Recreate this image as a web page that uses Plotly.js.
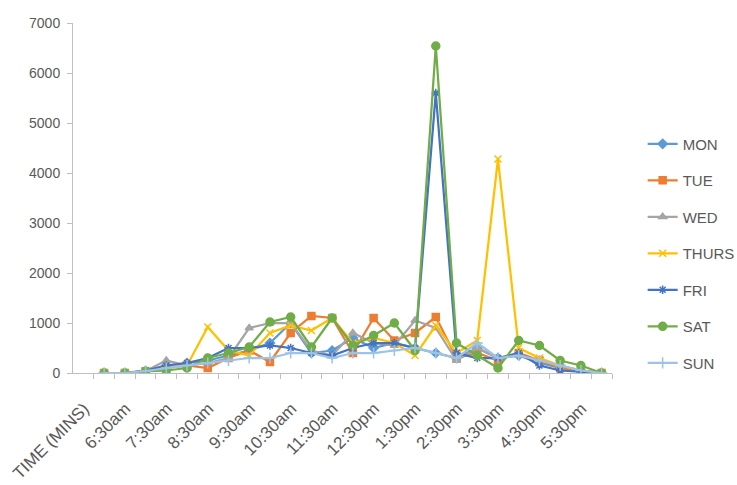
<!DOCTYPE html>
<html>
<head>
<meta charset="utf-8">
<script src="https://cdn.plot.ly/plotly-3.0.1.min.js"></script>
<style>
html,body{margin:0;padding:0;background:#fff;}
#chart{width:737px;height:485px;}
</style>
</head>
<body>
<div id="chart"></div>
<script>
const categories = ["TIME (MINS)","6:00am","6:30am","7:00am","7:30am","8:00am","8:30am","9:00am","9:30am","10:00am","10:30am","11:00am","11:30am","12:00pm","12:30pm","1:00pm","1:30pm","2:00pm","2:30pm","3:00pm","3:30pm","4:00pm","4:30pm","5:00pm","5:30pm"];

const MON   = [0,0,40,150,200,250,350,450,600,1000,400,450,700,500,600,500,400,300,500,300,350,200,100,50,0];
const TUE   = [0,0,30,100,150,100,300,450,220,800,1140,1100,400,1100,650,800,1120,300,400,250,400,250,100,50,0];
const WED   = [0,0,40,250,150,200,300,900,1000,1000,450,350,800,600,550,1050,900,250,500,300,350,250,150,50,0];
const THURS = [0,0,50,100,150,920,450,350,800,950,850,1100,600,700,600,350,950,400,650,4280,500,300,150,50,0];
const FRI   = [0,0,50,150,200,300,500,500,550,500,400,350,500,600,600,500,5600,400,300,300,400,150,50,30,0];
const SAT   = [0,0,30,50,100,300,400,520,1020,1120,520,1100,550,750,1000,450,6540,600,350,100,650,550,250,150,0];
const SUN   = [0,0,40,100,150,200,250,300,300,400,400,300,400,400,450,500,400,300,600,300,350,250,150,50,0];

const names = ["MON","TUE","WED","THURS","FRI","SAT","SUN"];
const seriesData = [MON,TUE,WED,THURS,FRI,SAT,SUN];
const colors = ["#5B9BD5","#ED7D31","#A5A5A5","#FFC000","#4472C4","#70AD47","#9DC3E6"];
const symbols = ["diamond","square","triangle-up","x-thin-open","asterisk-open","circle","cross-thin-open"];
const sizes = [7,7,7,7,7,8,8];

const traces = names.map((n,i)=>({
  type:"scatter",
  mode:"lines+markers",
  name:n,
  legendgroup:n,
  x:categories,
  y:seriesData[i],
  line:{color:colors[i],width:2.25},
  marker:{symbol:symbols[i],size:sizes[i],color:colors[i],line:{color:colors[i],width:1.5}}
}));

const layout = {
  width:737,height:485,
  margin:{l:73,r:125,t:23,b:112,autoexpand:false},
  paper_bgcolor:"#fff",plot_bgcolor:"#fff",
  font:{family:"Liberation Sans, Arial, sans-serif",color:"#595959",size:13},
  showlegend:true,
  legend:{xref:"container",yref:"container",x:0.872,xanchor:"left",y:0.737,yanchor:"top",tracegroupgap:14,font:{size:15,color:"#595959"},bgcolor:"rgba(0,0,0,0)"},
  xaxis:{
    type:"category",
    range:[-1.5,24.5],
    tickmode:"linear",tick0:0,dtick:1,
    ticklabelstep:2,
    tickson:"boundaries",
    ticks:"outside",ticklen:5,tickcolor:"#BFBFBF",
    tickangle:-45,
    ticklabelshift:-20,
    ticklabelstandoff:18,
    tickfont:{size:17,color:"#595959"},
    showline:true,linecolor:"#BFBFBF",linewidth:1,
    showgrid:false,zeroline:false,fixedrange:true
  },
  yaxis:{
    range:[0,7000],
    tickmode:"linear",tick0:0,dtick:1000,
    ticks:"outside",ticklen:5,tickcolor:"#BFBFBF",
    ticklabelstandoff:4,
    tickfont:{size:14,color:"#595959"},
    showline:true,linecolor:"#BFBFBF",linewidth:1,
    showgrid:false,zeroline:false,fixedrange:true
  }
};

Plotly.newPlot("chart",traces,layout,{displayModeBar:false,staticPlot:true});
</script>
</body>
</html>
